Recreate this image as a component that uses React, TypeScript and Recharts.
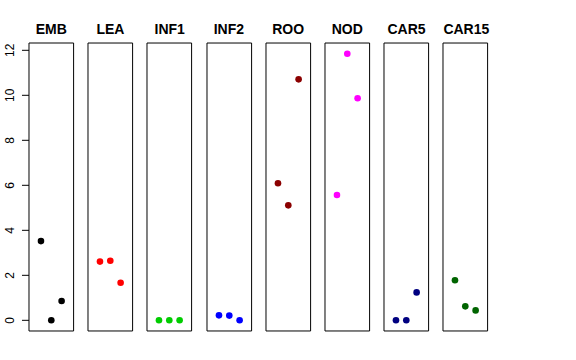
import { ScatterChart, Scatter, XAxis, YAxis, ReferenceArea } from "recharts"

const groups = ["EMB", "LEA", "INF1", "INF2", "ROO", "NOD", "CAR5", "CAR15"]
const emb = [3.52, 0, 0.86]
const lea = [2.61, 2.65, 1.67]
const inf1 = [0, 0, 0]
const inf2 = [0.22, 0.21, 0]
const roo = [6.09, 5.11, 10.71]
const nod = [5.57, 11.85, 9.87]
const car5 = [0, 0, 1.24]
const car15 = [1.78, 0.62, 0.44]
const colors = ["#000000", "#FF0000", "#00CD00", "#0000FF", "#8B0000", "#FF00FF", "#000080", "#006400"]
const yTicks = [0, 2, 4, 6, 8, 10, 12]

const series = [emb, lea, inf1, inf2, roo, nod, car5, car15]

// R-style 4% padding around the data ranges
const xDomain = [-0.16, 4.16]
const yDomain = [-0.474, 12.324]

const font = '"Liberation Sans", Arial, Helvetica, sans-serif'
const axisW = 29
const firstLeft = 29
const step = 59.2
const panelW = 44.6
const plotTop = 43
const plotH = 288
const pad = 2 // room so the frame isn't clipped

const YTick = ({ x, y, payload }: any) => (
  <text
    x={x - 6}
    y={y}
    transform={`rotate(-90, ${x - 6}, ${y})`}
    textAnchor="middle"
    fontSize={12}
    fontFamily={font}
    fill="#000"
  >
    {payload.value}
  </text>
)

function Panel({ idx }: { idx: number }) {
  const first = idx === 0
  const color = colors[idx]
  const data = series[idx].map((v, i) => ({ x: i + 1, y: v }))
  const left = firstLeft + idx * step - (first ? axisW : pad)
  return (
    <div style={{ position: "absolute", left, top: plotTop - pad }}>
      <ScatterChart
        width={panelW + (first ? axisW : pad) + pad}
        height={plotH + 2 * pad}
        margin={{ top: pad, right: pad, bottom: pad, left: first ? 0 : pad }}
      >
        <XAxis type="number" dataKey="x" domain={xDomain} hide allowDataOverflow />
        <YAxis
          type="number"
          dataKey="y"
          domain={yDomain}
          ticks={yTicks}
          allowDataOverflow
          hide={!first}
          width={axisW}
          axisLine={false}
          tickLine={{ stroke: "#000" }}
          tickSize={7}
          tick={<YTick />}
        />
        <ReferenceArea
          x1={xDomain[0]}
          x2={xDomain[1]}
          y1={yDomain[0]}
          y2={yDomain[1]}
          fill="none"
          stroke="#000"
          strokeOpacity={1}
          fillOpacity={0}
        />
        <Scatter
          data={data}
          isAnimationActive={false}
          shape={(p: any) => <circle cx={p.cx} cy={p.cy} r={3.3} fill={color} />}
        />
      </ScatterChart>
    </div>
  )
}

export default function App() {
  return (
    <div
      style={{
        position: "absolute",
        left: 0,
        top: 0,
        width: 576,
        height: 360,
        background: "#fff",
        fontFamily: font,
      }}
    >
      {groups.map((g, i) => (
        <div
          key={g}
          style={{
            position: "absolute",
            left: firstLeft + i * step,
            width: panelW,
            top: 21,
            textAlign: "center",
            fontWeight: "bold",
            fontSize: 14,
            lineHeight: "16px",
          }}
        >
          {g}
        </div>
      ))}
      {groups.map((g, i) => (
        <Panel key={g} idx={i} />
      ))}
    </div>
  )
}
